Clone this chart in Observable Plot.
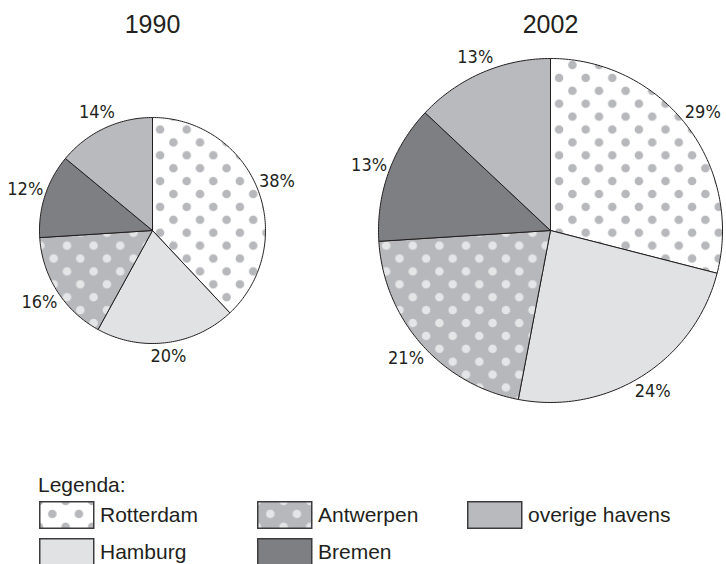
<!DOCTYPE html>
<html><head><meta charset="utf-8">
<script src="https://cdn.jsdelivr.net/npm/d3@7"></script>
<script src="https://cdn.jsdelivr.net/npm/@observablehq/plot@0.6"></script>
<style>
body{margin:0;background:#fff;width:726px;height:564px;overflow:hidden;position:relative;font-family:"Liberation Sans",Arial,sans-serif;color:#231f20}
#chart svg{display:block}
.lg-title{position:absolute;left:38px;top:473px;font-size:21px;line-height:24px}
.item{position:absolute;display:flex;align-items:center;font-size:21px;line-height:24px;white-space:nowrap}
.item svg{display:block;margin-right:5px}
</style></head><body>
<div id="chart"></div>
<div id="legend"></div>
<script>
// ---- data ----
const ports = ["Rotterdam", "Hamburg", "Antwerpen", "Bremen", "overige havens"];
const years = ["1990", "2002"];
const share1990 = [38, 20, 16, 12, 14];
const share2002 = [29, 24, 21, 13, 13];
const legendOrder = ["Rotterdam", "Antwerpen", "overige havens", "Hamburg", "Bremen"];

// ---- layout ----
const W = 726, H = 470;
const pies = [
  {year: "1990", values: share1990, cx: 152, cy: 230, r: 113},
  {year: "2002", values: share2002, cx: 550, cy: 230, r: 172}
];
const fills = ["url(#p-rot)", "#e1e2e4", "url(#p-ant)", "#7e7f82", "#b9babd"];

// build slice polygons from the data
const slicePts = [], labels = [], titles = [];
for (const p of pies) {
  const arcs = d3.pie().sort(null).startAngle(0).endAngle(2 * Math.PI)(p.values);
  arcs.forEach((a, i) => {
    const key = p.year + "-" + ports[i];
    slicePts.push({key, port: ports[i], x: p.cx, y: p.cy});
    const n = Math.max(2, Math.ceil((a.endAngle - a.startAngle) / (Math.PI / 180)));
    for (let k = 0; k <= n; k++) {
      const t = a.startAngle + (a.endAngle - a.startAngle) * k / n;
      slicePts.push({key, port: ports[i], x: p.cx + p.r * Math.sin(t), y: p.cy - p.r * Math.cos(t)});
    }
    slicePts.push({key, port: ports[i], x: p.cx, y: p.cy});
    const m = (a.startAngle + a.endAngle) / 2;
    const s = Math.sin(m), c = Math.cos(m);
    const pad = 4 + Math.abs(s) * 15 + Math.abs(c) * 8;
    labels.push({x: p.cx + (p.r + pad) * s, y: p.cy - (p.r + pad) * c, text: p.values[i] + "%"});
  });
  titles.push({x: p.cx, y: 32, text: p.year});
}

const chart = Plot.plot({
  width: W, height: H,
  margin: 0,
  x: {domain: [0, W], range: [0, W], axis: null},
  y: {domain: [0, H], range: [0, H], axis: null},
  color: {type: "ordinal", domain: ports, range: fills},
  marks: [
    Plot.line(slicePts, {x: "x", y: "y", z: "key", fill: "port", stroke: "#231f20", strokeWidth: 1, strokeLinejoin: "miter", curve: "linear"}),
    Plot.text(labels, {x: "x", y: "y", text: "text", fontSize: 18, lineAnchor: "middle", textAnchor: "middle", fill: "#231f20",
      fontFamily: "'Liberation Sans Narrow','Arial Narrow','DejaVu Sans Condensed',sans-serif"}),
    Plot.text(titles, {x: "x", y: "y", text: "text", fontSize: 25, lineAnchor: "bottom", textAnchor: "middle", fill: "#231f20",
      fontFamily: "'Liberation Sans',Arial,sans-serif"})
  ]
});

// dot patterns
const defs = `
<pattern id="p-rot" patternUnits="userSpaceOnUse" width="26.6" height="25.8">
  <rect width="26.6" height="25.8" fill="#ffffff"/>
  <circle cx="0" cy="0" r="4.3" fill="#b7b8bb"/><circle cx="26.6" cy="0" r="4.3" fill="#b7b8bb"/>
  <circle cx="0" cy="25.8" r="4.3" fill="#b7b8bb"/><circle cx="26.6" cy="25.8" r="4.3" fill="#b7b8bb"/>
  <circle cx="13.3" cy="12.9" r="4.3" fill="#b7b8bb"/>
</pattern>
<pattern id="p-ant" patternUnits="userSpaceOnUse" width="26.6" height="25.8">
  <rect width="26.6" height="25.8" fill="#b7b8bb"/>
  <circle cx="0" cy="0" r="4.3" fill="#e4e5e7"/><circle cx="26.6" cy="0" r="4.3" fill="#e4e5e7"/>
  <circle cx="0" cy="25.8" r="4.3" fill="#e4e5e7"/><circle cx="26.6" cy="25.8" r="4.3" fill="#e4e5e7"/>
  <circle cx="13.3" cy="12.9" r="4.3" fill="#e4e5e7"/>
</pattern>`;
d3.select(chart).insert("defs", ":first-child").html(defs);
document.getElementById("chart").appendChild(chart);

// legend
const legend = document.getElementById("legend");
const t = document.createElement("div");
t.className = "lg-title"; t.textContent = "Legenda:";
legend.appendChild(t);
const cols = [39, 257, 467], rows = [501, 538];
legendOrder.forEach((name, i) => {
  const item = document.createElement("div");
  item.className = "item";
  item.style.left = cols[i % 3] + "px";
  item.style.top = rows[Math.floor(i / 3)] + "px";
  const f = fills[ports.indexOf(name)];
  item.innerHTML = `<svg width="56" height="28"><rect x="0.75" y="0.75" width="54" height="26.5" fill="${f}" stroke="#3c3c3e" stroke-width="1.5"/></svg><span>${name}</span>`;
  legend.appendChild(item);
});
</script></body></html>
